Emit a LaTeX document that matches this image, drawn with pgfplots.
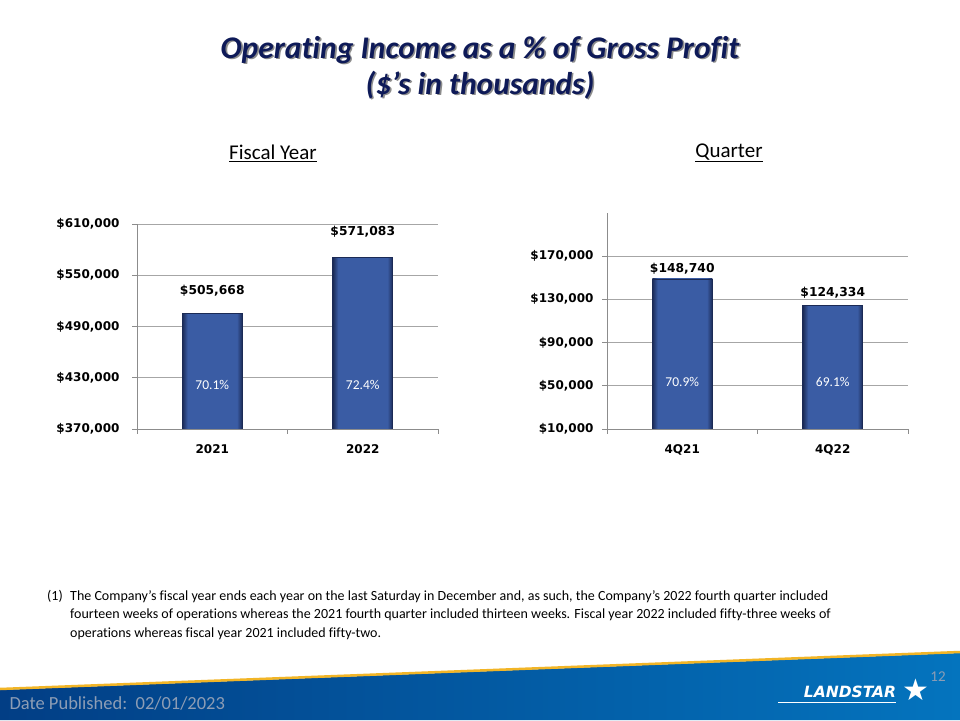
\documentclass[border=0pt]{standalone}
\usepackage{pgfplots}
\pgfplotsset{compat=1.18}
\usepackage{fontspec}
\setmainfont{Carlito}[Ligatures={TeX,NoCommon}]
\newfontfamily\dv{DejaVu Sans}
\definecolor{barblue}{HTML}{3A5CA4}
\definecolor{baredge}{HTML}{1B2A55}
\definecolor{titleblue}{HTML}{0E1A58}
\definecolor{gridgray}{HTML}{A6A6A6}
\definecolor{axgray}{HTML}{8C8C8C}
\definecolor{footL}{HTML}{023E85}
\definecolor{footR}{HTML}{0474BE}
\definecolor{gold}{HTML}{F2B526}
\definecolor{dategray}{HTML}{8D9DB5}
\pgfdeclarehorizontalshading{barshade}{100bp}{color(0bp)=(baredge); color(25bp)=(baredge); color(29.5bp)=(barblue); color(70.5bp)=(barblue); color(75bp)=(baredge); color(100bp)=(baredge)}
\pgfplotsset{
  barchart/.style={
    scale only axis, width=301pt, anchor=south west,
    xmin=-0.5, xmax=1.5,
    axis x line*=bottom, axis y line*=left,
    axis line style={axgray, line width=0.8pt},
    tick align=outside,
    xtick={0,1},
    major x tick style={draw=none},
    minor xtick={-0.5,0.5,1.5},
    minor x tick style={axgray, line width=0.8pt},
    minor tick length=5pt,
    major tick length=5pt,
    y tick style={axgray, line width=0.8pt},
    ymajorgrids, grid style={gridgray, line width=0.8pt},
    scaled y ticks=false,
    ticklabel style={font=\dv\bfseries\fontsize{12}{14}\selectfont},
    yticklabel style={xshift=-5pt},
    xticklabel style={yshift=-7pt},
    ybar, bar width=60pt, bar shift=0pt,
  },
  onebar/.style={shading=barshade, draw=baredge, line width=0.8pt, bar shift=0pt},
}
\tikzset{
  vallabel/.style={font=\dv\bfseries\fontsize{12.3}{14}\selectfont},
  pctlabel/.style={font=\fontsize{13.5}{16}\selectfont, text=white},
  ttl/.style={font=\fontsize{31.5}{36}\selectfont\bfseries\itshape},
}
\begin{document}
\begin{tikzpicture}
\useasboundingbox (0,0) rectangle (960pt,720pt);
\fill[white] (0,0) rectangle (960pt,720pt);
% title
\node[black!45, ttl] at (481.6pt,668.4pt) {Operating Income as a \% of Gross Profit};
\node[titleblue, ttl] at (480pt,670pt) {Operating Income as a \% of Gross Profit};
\node[black!45, ttl] at (481.6pt,633.4pt) {(\$’s in thousands)};
\node[titleblue, ttl] at (480pt,635pt) {(\$’s in thousands)};
% subtitles
\node[font=\fontsize{21}{25}\selectfont] at (273pt,567pt) {\underline{Fiscal Year}};
\node[font=\fontsize{21}{25}\selectfont] at (729pt,567pt) {\underline{Quarter}};

% left chart
\begin{axis}[barchart, at={(137pt,291pt)}, height=205pt,
  ymin=370000, ymax=610000,
  ytick={370000,430000,490000,550000,610000},
  yticklabels={{\$370,000},{\$430,000},{\$490,000},{\$550,000},{\$610,000}},
  yticklabel style={xshift=-4pt},
  xticklabels={2021,2022}]
\addplot[onebar] coordinates {(0,505668)};
\addplot[onebar] coordinates {(1,571083)};
\node[vallabel] at (axis cs:0,531560) {\$505,668};
\node[vallabel] at (axis cs:1,600630) {\$571,083};
\node[pctlabel] at (axis cs:0,421500) {70.1\%};
\node[pctlabel] at (axis cs:1,421500) {72.4\%};
\end{axis}

% right chart
\begin{axis}[barchart, at={(607pt,291pt)}, height=216.25pt,
  ymin=10000, ymax=210000,
  ytick={10000,50000,90000,130000,170000},
  yticklabels={{\$10,000},{\$50,000},{\$90,000},{\$130,000},{\$170,000}},
  xticklabels={4Q21,4Q22}]
\addplot[onebar] coordinates {(0,148740)};
\addplot[onebar] coordinates {(1,124334)};
\node[vallabel] at (axis cs:0,157980) {\$148,740};
\node[vallabel] at (axis cs:1,135780) {\$124,334};
\node[pctlabel] at (axis cs:0,53500) {70.9\%};
\node[pctlabel] at (axis cs:1,53500) {69.1\%};
\end{axis}

% footnote
\node[anchor=north west, font=\fontsize{14}{18.6}\selectfont, inner sep=0pt] at (47pt,130pt) {(1)};
\node[anchor=north west, align=left, font=\fontsize{14}{18.6}\selectfont, inner sep=0pt] at (70pt,130pt)
 {The Company’s fiscal year ends each year on the last Saturday in December and, as such, the Company’s 2022 fourth quarter included\\
  fourteen weeks of operations whereas the 2021 fourth quarter included thirteen weeks. Fiscal year 2022 included fifty-three weeks of\\
  operations whereas fiscal year 2021 included fifty-two.};

% footer band
\shade[left color=footL, right color=footR] (0,0) -- (960pt,0) -- (960pt,67pt) -- (0,30pt) -- cycle;
\draw[gold, line width=2.5pt] (0,31pt) -- (960pt,68pt);
\node[anchor=west, text=dategray, font=\fontsize{18.5}{20}\selectfont] at (6pt,17pt) {Date Published:\ \ 02/01/2023};
\node[text=dategray, font=\fontsize{15}{16}\selectfont] at (938pt,43pt) {12};
\node[text=white, font=\dv\bfseries\itshape\fontsize{15.5}{17}\selectfont] at (850pt,28pt) {LANDSTAR};
\draw[white, line width=0.8pt] (778pt,17.5pt) -- (896pt,17.5pt);
\node[text=white, font=\dv\fontsize{30}{32}\selectfont] at (916pt,30pt) {★};
\end{tikzpicture}
\end{document}
